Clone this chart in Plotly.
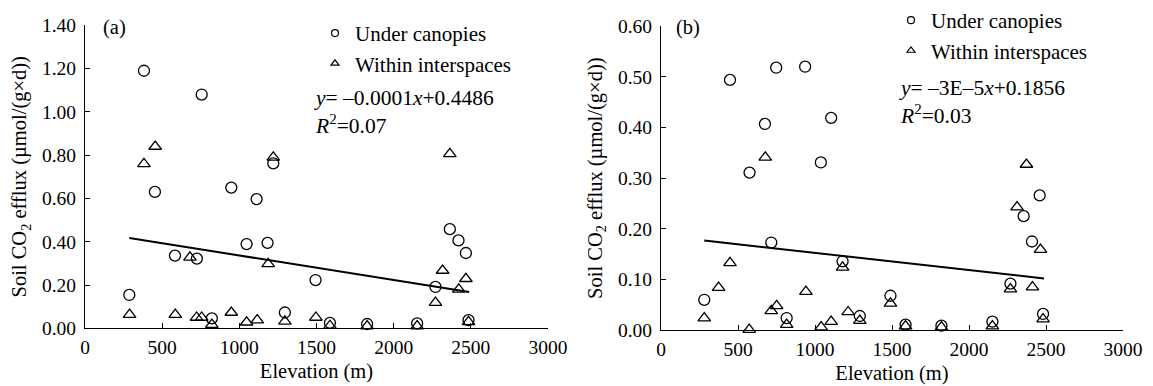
import plotly.graph_objects as go

# ---------------- data ----------------
a_canopy_elev = [287, 382, 453, 583, 725, 756, 822, 948, 1047, 1112, 1183, 1220,
                 1295, 1494, 1587, 1828, 2152, 2271, 2364, 2420, 2468, 2485]
a_canopy_flux = [0.154, 1.19, 0.63, 0.336, 0.322, 1.08, 0.046, 0.65, 0.389, 0.597, 0.395, 0.762,
                 0.073, 0.223, 0.025, 0.02, 0.023, 0.191, 0.458, 0.406, 0.348, 0.038]

a_inter_elev = [289, 382, 455, 585, 680, 723, 756, 822, 948, 1047, 1116, 1187,
                1220, 1295, 1496, 1587, 1828, 2152, 2271, 2317, 2364, 2422, 2468, 2485]
a_inter_flux = [0.063, 0.76, 0.84, 0.063, 0.328, 0.05, 0.05, 0.017, 0.073, 0.028, 0.038, 0.298,
                0.79, 0.032, 0.05, 0.012, 0.01, 0.01, 0.119, 0.267, 0.806, 0.18, 0.229, 0.03]

b_canopy_elev = [281, 448, 575, 675, 716, 748, 816, 936, 1038, 1105, 1179,
                 1291, 1490, 1588, 1821, 2152, 2269, 2355, 2409, 2459, 2481]
b_canopy_flux = [0.060, 0.494, 0.311, 0.407, 0.173, 0.518, 0.024, 0.520, 0.331, 0.419, 0.136,
                 0.028, 0.068, 0.011, 0.009, 0.017, 0.092, 0.225, 0.175, 0.266, 0.032]

b_inter_elev = [281, 374, 448, 573, 677, 716, 751, 816, 941, 1040, 1105, 1179,
                1215, 1291, 1490, 1588, 1821, 2152, 2269, 2312, 2373, 2412, 2464, 2481]
b_inter_flux = [0.024, 0.084, 0.133, 0.001, 0.341, 0.038, 0.048, 0.011, 0.076, 0.006, 0.017, 0.124,
                0.036, 0.019, 0.053, 0.008, 0.006, 0.008, 0.081, 0.243, 0.327, 0.085, 0.159, 0.022]

# linear fits (slope, intercept) and their elevation span
fit_a = (-0.000113, 0.4494)
fit_b = (-0.000034, 0.1866)
fit_a_span = [287, 2489]
fit_b_span = [281, 2487]

eq_a = "<i>y</i>= \u20130.0001<i>x</i>+0.4486<br><i>R</i><sup>2</sup>=0.07"
eq_b = "<i>y</i>= \u20133E\u20135<i>x</i>+0.1856<br><i>R</i><sup>2</sup>=0.03"

x_ticks = [0, 500, 1000, 1500, 2000, 2500, 3000]
ya_ticks = [0, 0.2, 0.4, 0.6, 0.8, 1.0, 1.2, 1.4]
yb_ticks = [0, 0.1, 0.2, 0.3, 0.4, 0.5, 0.6]

names = ["Under canopies", "Within interspaces"]

# ---------------- figure ----------------
W, H = 1153, 386
FONT = "Liberation Serif, Times New Roman, serif"
BLACK = "black"

fig = go.Figure()

def add_panel(fig, xa, ya, legend, ce, cf, ie, iff, fit, span):
    symbols = ["circle-open", "triangle-up-open"]
    for name, sym, xs, ys in zip(names, symbols, [ce, ie], [cf, iff]):
        fig.add_trace(go.Scatter(x=xs, y=ys, mode="markers", name=name,
                                 xaxis=xa, yaxis=ya, showlegend=False, cliponaxis=False,
                                 marker=dict(symbol=sym, size=11, color=BLACK,
                                             line=dict(width=1.3, color=BLACK))))
        # smaller legend key, as in the reference
        fig.add_trace(go.Scatter(x=[None], y=[None], mode="markers", name=name,
                                 xaxis=xa, yaxis=ya, legend=legend,
                                 marker=dict(symbol=sym, size=7, color=BLACK,
                                             line=dict(width=1.2, color=BLACK))))
    m, b = fit
    fig.add_trace(go.Scatter(x=span, y=[m * v + b for v in span], mode="lines",
                             xaxis=xa, yaxis=ya, showlegend=False,
                             line=dict(color=BLACK, width=2)))

add_panel(fig, "x", "y", "legend", a_canopy_elev, a_canopy_flux, a_inter_elev, a_inter_flux, fit_a, fit_a_span)
add_panel(fig, "x2", "y2", "legend2", b_canopy_elev, b_canopy_flux, b_inter_elev, b_inter_flux, fit_b, fit_b_span)

def px_x(p):
    return p / W

def px_y(p):
    return 1 - p / H

axis_common = dict(showline=True, linecolor=BLACK, linewidth=1.2, ticks="inside",
                   ticklen=5, tickwidth=1, tickcolor=BLACK, showgrid=False, zeroline=False,
                   automargin=False,
                   tickfont=dict(family=FONT, size=19.5, color=BLACK))

ytitle = "Soil CO<sub>2</sub> efflux (\u00b5mol/(g\u00d7d))"
title_font = dict(family=FONT, size=20.5, color=BLACK)
leg_font = dict(family=FONT, size=21, color=BLACK)
eq_font = dict(family=FONT, size=21.5, color=BLACK)

fig.update_layout(
    width=W, height=H, margin=dict(l=0, r=0, t=0, b=0),
    paper_bgcolor="white", plot_bgcolor="white",
    font=dict(family=FONT, size=20, color=BLACK),
    xaxis=dict(domain=[px_x(85), px_x(548)], range=[0, 3000], tickvals=x_ticks,
               anchor="y", title=dict(text="Elevation (m)", standoff=6, font=title_font),
               ticklabelstandoff=1, **axis_common),
    yaxis=dict(domain=[px_y(327.7), px_y(21.5)], range=[0, 1.4], tickvals=ya_ticks,
               tickformat=".2f", anchor="x", title=dict(text=ytitle, standoff=9, font=title_font),
               ticklabelstandoff=4, **axis_common),
    xaxis2=dict(domain=[px_x(661), px_x(1123)], range=[0, 3000], tickvals=x_ticks,
                anchor="y2", title=dict(text="Elevation (m)", standoff=6, font=title_font),
                ticklabelstandoff=1, **axis_common),
    yaxis2=dict(domain=[px_y(329.6), px_y(22.4)], range=[0, 0.6], tickvals=yb_ticks,
                tickformat=".2f", anchor="x2", title=dict(text=ytitle, standoff=9, font=title_font),
                ticklabelstandoff=4, **axis_common),
    legend=dict(x=px_x(356 - 41), y=px_y(30 - 21), xanchor="left", yanchor="top",
                bgcolor="rgba(0,0,0,0)", borderwidth=0, tracegroupgap=0, font=leg_font),
    legend2=dict(x=px_x(932 - 41), y=px_y(17 - 21), xanchor="left", yanchor="top",
                 bgcolor="rgba(0,0,0,0)", borderwidth=0, tracegroupgap=0, font=leg_font),
    annotations=[
        dict(x=191, y=1.39, xref="x", yref="y", text="(a)", showarrow=False, font=title_font),
        dict(x=178, y=0.597, xref="x2", yref="y2", text="(b)", showarrow=False, font=title_font),
        dict(x=1470, y=1.0, xref="x", yref="y", text=eq_a, showarrow=False,
             xanchor="left", yanchor="middle", align="left", font=eq_font),
        dict(x=1530, y=0.451, xref="x2", yref="y2", text=eq_b, showarrow=False,
             xanchor="left", yanchor="middle", align="left", font=eq_font),
    ],
)

# remove the browser's default 8px page margin so the figure fills the window exactly
fig.write_html("out.html", config={"displayModeBar": False},
               post_script="document.body.style.margin='0';")
